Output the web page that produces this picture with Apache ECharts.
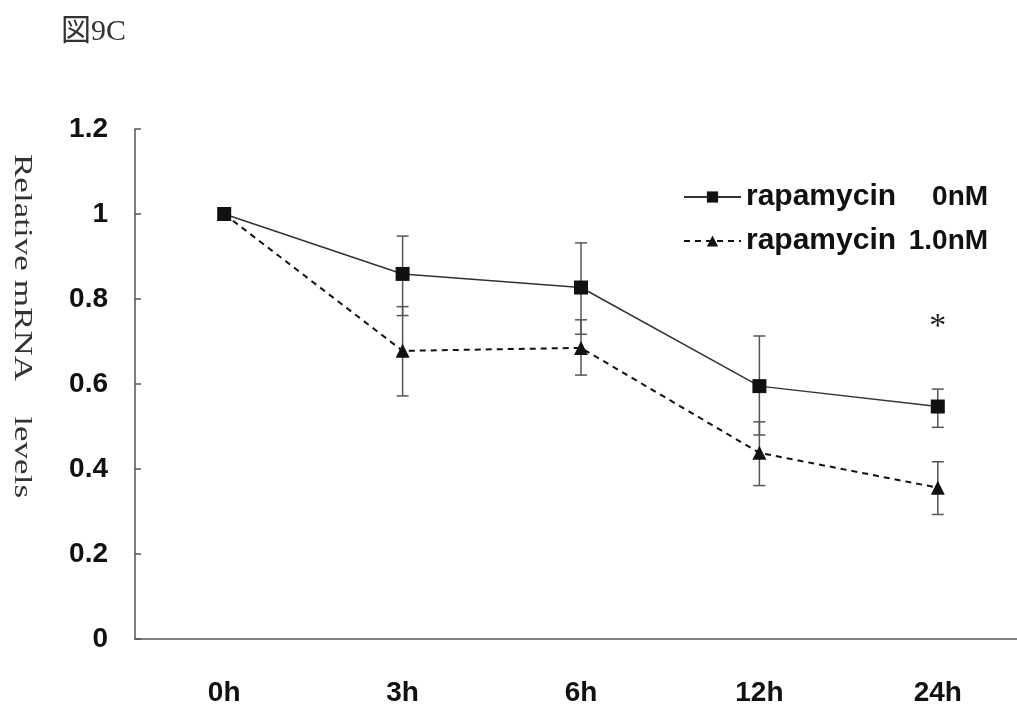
<!DOCTYPE html>
<html>
<head>
<meta charset="utf-8">
<script src="https://cdn.jsdelivr.net/npm/echarts@6/dist/echarts.min.js"></script>
<style>
html,body{margin:0;padding:0;background:#fff;}
#chart{width:1017px;height:711px;}
</style>
</head>
<body>
<div id="chart"></div>
<script>
const categories = ['0h', '3h', '6h', '12h', '24h'];
const seriesNames = ['rapamycin 0nM', 'rapamycin 1.0nM'];
const ctrlMean = [1.0, 0.859, 0.827, 0.595, 0.547];
const ctrlLow  = [1.0, 0.761, 0.717, 0.480, 0.498];
const ctrlHigh = [1.0, 0.948, 0.932, 0.713, 0.588];
const rapaMean = [1.0, 0.678, 0.685, 0.438, 0.356];
const rapaLow  = [1.0, 0.572, 0.621, 0.361, 0.293];
const rapaHigh = [1.0, 0.782, 0.751, 0.511, 0.417];
const yMin = 0, yMax = 1.2, yStep = 0.2;
const titleText = '図9C';
const yAxisTitle = 'Relative mRNA    levels';
const sigMark = { category: '24h', value: 0.735, text: '*' };

function errData(low, high) {
  return categories.map((c, i) => [i, low[i], high[i]]);
}
function errRender(params, api) {
  const x = api.value(0);
  const lo = api.coord([x, api.value(1)]);
  const hi = api.coord([x, api.value(2)]);
  const w = 6;
  const style = { stroke: '#555', lineWidth: 1.5 };
  return {
    type: 'group',
    children: [
      { type: 'line', shape: { x1: lo[0], y1: lo[1], x2: hi[0], y2: hi[1] }, style },
      { type: 'line', shape: { x1: lo[0] - w, y1: lo[1], x2: lo[0] + w, y2: lo[1] }, style },
      { type: 'line', shape: { x1: hi[0] - w, y1: hi[1], x2: hi[0] + w, y2: hi[1] }, style }
    ]
  };
}

const chart = echarts.init(document.getElementById('chart'));
chart.setOption({
  backgroundColor: '#fff',
  animation: false,
  title: {
    text: titleText,
    left: 56, top: 12,
    textStyle: { fontFamily: 'Liberation Serif, Noto Sans CJK JP, serif', fontWeight: 'normal', fontSize: 30, color: '#333' }
  },
  graphic: [{
    type: 'text',
    x: 22, y: 326,
    rotation: -Math.PI / 2,
    scaleX: 1.35,
    style: {
      text: yAxisTitle,
      fontFamily: 'Liberation Serif, serif',
      fontSize: 26,
      fill: '#333',
      textAlign: 'center',
      textVerticalAlign: 'middle'
    }
  }],
  legend: {
    orient: 'vertical',
    left: 678, top: 177,
    itemWidth: 57, itemHeight: 14, itemGap: 14,
    data: seriesNames,
    formatter: function (name) {
      const parts = name.split(' ');
      return '{a|' + parts[0] + '}{b|' + parts[1] + '}';
    },
    textStyle: {
      fontFamily: 'Liberation Sans, Arial, sans-serif',
      fontWeight: 'bold', fontSize: 30, color: '#111',
      rich: {
        a: { fontFamily: 'Liberation Sans, Arial, sans-serif', fontWeight: 'bold', fontSize: 30, color: '#111' },
        b: { fontFamily: 'Liberation Sans, Arial, sans-serif', fontWeight: 'bold', fontSize: 28, color: '#111', width: 92, align: 'right' }
      }
    }
  },
  grid: { left: 135, top: 129, height: 510, width: 892, containLabel: false, outerBoundsMode: 'none' },
  xAxis: {
    type: 'category',
    data: categories,
    boundaryGap: true,
    axisLine: { lineStyle: { color: '#555', width: 1.5 } },
    axisTick: { show: false },
    axisLabel: { margin: 40, fontFamily: 'Liberation Sans, Arial, sans-serif', fontWeight: 'bold', fontSize: 28, color: '#111' },
    splitLine: { show: false }
  },
  yAxis: {
    type: 'value',
    min: yMin, max: yMax, interval: yStep,
    axisLine: { show: true, lineStyle: { color: '#555', width: 1.5 } },
    axisTick: { show: true, inside: true, length: 6, lineStyle: { color: '#555', width: 1.5 } },
    axisLabel: { margin: 27, fontFamily: 'Liberation Sans, Arial, sans-serif', fontWeight: 'bold', fontSize: 28, color: '#111' },
    splitLine: { show: false }
  },
  series: [
    {
      type: 'custom', name: 'err0', renderItem: errRender, data: errData(ctrlLow, ctrlHigh), z: 1, silent: true
    },
    {
      type: 'custom', name: 'err1', renderItem: errRender, data: errData(rapaLow, rapaHigh), z: 1, silent: true
    },
    {
      name: seriesNames[0], type: 'line', data: ctrlMean, z: 3,
      symbol: 'rect', symbolSize: 14,
      itemStyle: { color: '#111' },
      lineStyle: { color: '#333', width: 1.5, type: 'solid' },
      markPoint: {
        symbol: 'circle', symbolSize: 0,
        label: { show: true, position: 'inside', formatter: sigMark.text, fontFamily: 'Liberation Serif, serif', fontSize: 34, color: '#222' },
        data: [{ coord: [sigMark.category, sigMark.value] }]
      }
    },
    {
      name: seriesNames[1], type: 'line', data: rapaMean, z: 3,
      symbol: 'triangle', symbolSize: 14,
      itemStyle: { color: '#111' },
      lineStyle: { color: '#111', width: 2, type: [6, 5] }
    }
  ]
});
</script>
</body>
</html>
